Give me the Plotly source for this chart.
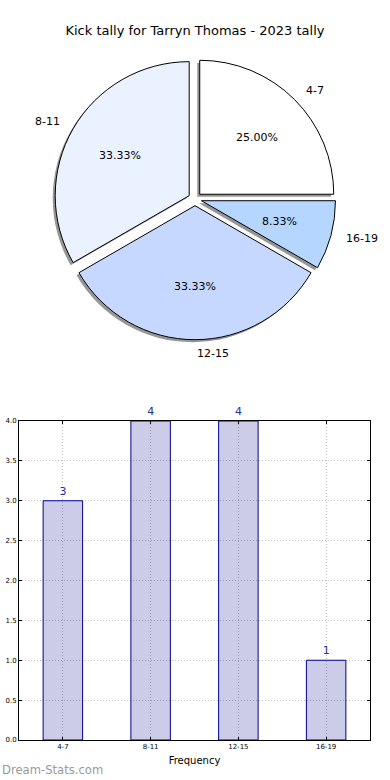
import math
import plotly.graph_objects as go

title = "Kick tally for Tarryn Thomas - 2023 tally"
categories = ["4-7", "8-11", "12-15", "16-19"]
counts = [3, 4, 4, 1]
slice_colors = ["#FFFFFF", "#EBF2FF", "#C6D8FF", "#B4D6FF"]
y_ticks = [0, 0.5, 1, 1.5, 2, 2.5, 3, 3.5, 4]

W, H = 390, 780
FONT = "DejaVu Sans"

# pie geometry (pixels)
R = 134
pull = 0.05
cx, cy = 195, 199
half = R * (1 + pull)
px_dom = [(cx - half) / W, (cx + half) / W]
py_dom = [(H - cy - half) / H, (H - cy + half) / H]
sh = 2.5  # shadow offset px

fig = go.Figure()

common = dict(labels=categories, values=counts, sort=False,
              direction="counterclockwise", rotation=0, pull=[pull] * 4,
              textinfo="none", showlegend=False)

# shadow
fig.add_trace(go.Pie(
    **common,
    marker=dict(colors=["rgba(80,80,80,0.6)"] * 4, line=dict(width=0)),
    hoverinfo="skip",
    domain=dict(x=[px_dom[0] - sh / W, px_dom[1] - sh / W],
                y=[py_dom[0] - sh / H, py_dom[1] - sh / H]),
))

# main pie
fig.add_trace(go.Pie(
    **common,
    marker=dict(colors=slice_colors, line=dict(color="black", width=1)),
    domain=dict(x=px_dom, y=py_dom),
))

# pie texts (labels at 1.1 R, percentages at 0.6 R), derived from the values
annotations = []
total = sum(counts)
cum = 0
for cat, v in zip(categories, counts):
    mid = 2 * math.pi * (cum + v / 2) / total
    cum += v
    c, s = math.cos(mid), math.sin(mid)
    ox, oy = cx + pull * R * c, cy - pull * R * s
    lx, ly = ox + 1.1 * R * c, oy - 1.1 * R * s
    annotations.append(dict(
        text=cat, xref="paper", yref="paper", x=lx / W, y=1 - ly / H,
        xanchor="left" if c > -1e-9 else "right", yanchor="middle", showarrow=False,
        font=dict(family=FONT, size=11, color="black")))
    tx, ty = ox + 0.6 * R * c, oy - 0.6 * R * s
    annotations.append(dict(
        text=f"{100 * v / total:.2f}%", xref="paper", yref="paper", x=tx / W, y=1 - ty / H,
        xanchor="center", yanchor="middle", showarrow=False,
        font=dict(family=FONT, size=11, color="black")))

annotations.append(dict(
    text="Dream-Stats.com", xref="paper", yref="paper", x=0, y=1 - 770 / H,
    xanchor="left", yanchor="middle", showarrow=False,
    font=dict(family=FONT, size=11.6, color="#9a9a9a")))

# bar chart
fig.add_trace(go.Bar(
    x=categories, y=counts, width=0.45,
    marker=dict(color="rgba(0,0,139,0.2)", line=dict(color="#00008B", width=1)),
    text=[str(c) for c in counts], textposition="outside",
    textfont=dict(family=FONT, size=11, color="#1F2F9A"),
    cliponaxis=False, showlegend=False,
))

grid = dict(showgrid=True, gridcolor="#bdbdbd", griddash="1px,2px", gridwidth=1)

fig.update_layout(
    width=W, height=H,
    margin=dict(l=0, r=0, t=0, b=0),
    paper_bgcolor="white", plot_bgcolor="white",
    font=dict(family=FONT, color="black"),
    title=dict(text=title, x=0.5, xanchor="center", y=1 - 30 / H, yanchor="middle",
               font=dict(family=FONT, size=13, color="black")),
    xaxis=dict(
        domain=[19 / W, 370 / W], range=[-0.5, 3.5], automargin=False,
        showline=True, linecolor="black", linewidth=1, mirror="allticks",
        ticks="inside", ticklen=3, tickcolor="black",
        tickfont=dict(family=FONT, size=7, color="black"),
        title=dict(text="Frequency", font=dict(family=FONT, size=10, color="black"), standoff=6),
        zeroline=False, **grid,
    ),
    yaxis=dict(
        domain=[1 - 740 / H, 1 - 421 / H], range=[0, 4], automargin=False,
        tickvals=y_ticks, ticktext=[f"{v:.1f}" for v in y_ticks],
        showline=True, linecolor="black", linewidth=1, mirror="allticks",
        ticks="inside", ticklen=3, tickcolor="black",
        tickfont=dict(family=FONT, size=7, color="black"),
        zeroline=False, **grid,
    ),
    annotations=annotations,
)

fig.write_html("out.html", config={"displayModeBar": False},
               post_script="document.body.style.margin='0';")
